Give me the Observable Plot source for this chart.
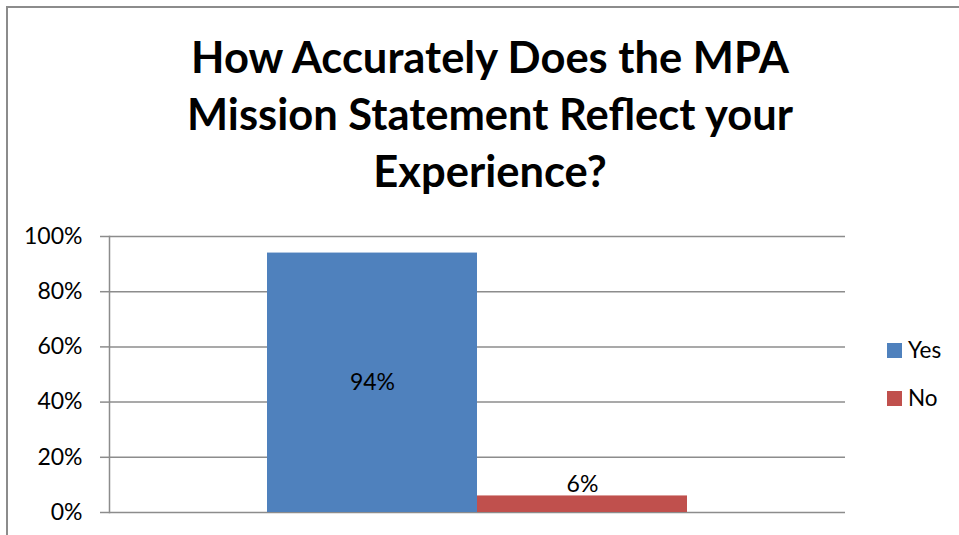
<!DOCTYPE html>
<html>
<head>
<meta charset="utf-8">
<script src="https://cdn.jsdelivr.net/npm/d3@7"></script>
<script src="https://cdn.jsdelivr.net/npm/@observablehq/plot@0.6"></script>
<style>
  html, body { margin: 0; padding: 0; background: #fff; overflow: hidden; }
  body { width: 959px; height: 535px; position: relative; font-family: Lato, "Open Sans", sans-serif; }
  #border { position: absolute; left: 6px; top: 6px; width: 1000px; height: 600px; border: 2px solid #8c8c8c; box-sizing: border-box; }
  .tline { position: absolute; left: 0; width: 980px; text-align: center; font-weight: 700; font-size: 43.5px; line-height: 57px; color: #000; white-space: nowrap; }
  #chart { position: absolute; left: 0; top: 220px; }
  .leg { position: absolute; left: 887px; display: flex; align-items: center; font-size: 22.5px; color: #000; line-height: 22px; }
  .leg .sw { width: 15px; height: 15px; margin-right: 6px; }
</style>
</head>
<body>
<div id="border"></div>
<div id="title"></div>
<div id="chart"></div>
<div id="legend"></div>
<script>
const titleLines = ["How Accurately Does the MPA", "Mission Statement Reflect your", "Experience?"];
const categories = ["Yes", "No"];
const values = [0.94, 0.06];
const colors = ["#4F81BD", "#C0504D"];
const yTicks = [0, 0.2, 0.4, 0.6, 0.8, 1.0];

const fmt = d => Math.round(d * 100) + "%";
const data = categories.map((c, i) => ({category: c, value: values[i]}));

// Title
const titleEl = document.getElementById("title");
titleLines.forEach((t, i) => {
  const d = document.createElement("div");
  d.className = "tline";
  d.style.top = (28 + i * 57) + "px";
  d.textContent = t;
  titleEl.appendChild(d);
});

// Chart
const chart = Plot.plot({
  width: 959,
  height: 315,
  marginTop: 16,
  marginBottom: 23,
  marginLeft: 109,
  marginRight: 114,
  style: {fontFamily: "Lato, 'Open Sans', sans-serif", fontSize: "23px", color: "#000", background: "transparent", overflow: "visible"},
  x: {domain: categories, paddingInner: 0, paddingOuter: 0.75, axis: null},
  y: {domain: [0, 1], ticks: yTicks, tickFormat: fmt},
  color: {domain: categories, range: colors},
  marks: [
    Plot.ruleY(yTicks, {stroke: "#8c8c8c", strokeWidth: 1.5}),
    Plot.axisY({ticks: yTicks, tickFormat: fmt, tickSize: 9, tickPadding: 18, stroke: "#8c8c8c", strokeWidth: 1.5, fill: "#000", label: null, fontSize: 23}),
    Plot.frame({anchor: "left", stroke: "#8c8c8c", strokeWidth: 1.5}),
    Plot.barY(data, {x: "category", y: "value", fill: "category"}),
    Plot.text(data.filter(d => d.value >= 0.5), {x: "category", y: d => d.value / 2, text: d => fmt(d.value), fill: "#000", fontSize: 23}),
    Plot.text(data.filter(d => d.value < 0.5), {x: "category", y: "value", text: d => fmt(d.value), fill: "#000", fontSize: 23, dy: -11})
  ]
});
document.getElementById("chart").appendChild(chart);

// Legend
const legEl = document.getElementById("legend");
categories.forEach((c, i) => {
  const item = document.createElement("div");
  item.className = "leg";
  item.style.top = (339 + i * 48) + "px";
  const sw = document.createElement("div");
  sw.className = "sw";
  sw.style.background = colors[i];
  const lab = document.createElement("span");
  lab.textContent = c;
  item.appendChild(sw);
  item.appendChild(lab);
  legEl.appendChild(item);
});
</script>
</body>
</html>
